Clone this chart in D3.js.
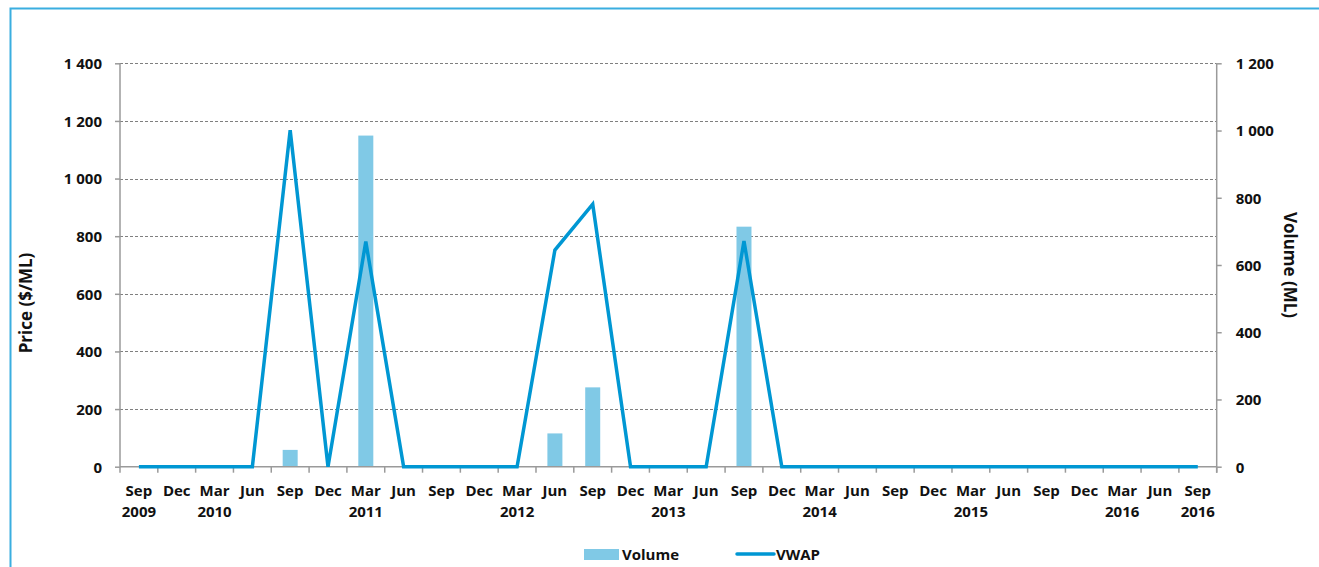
<!DOCTYPE html>
<html>
<head>
<meta charset="utf-8">
<script src="https://cdn.jsdelivr.net/npm/d3@7"></script>
<style>
  html, body { margin: 0; padding: 0; background: #fff; }
  svg { display: block; }
  text { font-family: "Open Sans", Lato, sans-serif; font-weight: bold; fill: #111; }
</style>
</head>
<body>
<svg id="chart" width="1319" height="567"></svg>
<script>
// ---- data ----
const months = ["Sep","Dec","Mar","Jun","Sep","Dec","Mar","Jun","Sep","Dec","Mar","Jun","Sep","Dec","Mar","Jun","Sep","Dec","Mar","Jun","Sep","Dec","Mar","Jun","Sep","Dec","Mar","Jun","Sep"];
const years  = ["2009","","2010","","","","2011","","","","2012","","","","2013","","","","2014","","","","2015","","","","2016","","2016"];
const vwap   = [0,0,0,0,1168,0,781,0,0,0,0,752,911,0,0,0,783,0,0,0,0,0,0,0,0,0,0,0,0];
const volume = [0,0,0,0,50,0,985,0,0,0,0,99,236,0,0,0,714,0,0,0,0,0,0,0,0,0,0,0,0];
const priceTicks  = [0,200,400,600,800,1000,1200,1400];
const volumeTicks = [0,200,400,600,800,1000,1200];

const fmt = d => d3.format(",")(d).replace(/,/g, " ");

const svg = d3.select("#chart");
const L = 120, R = 1216.7, T = 63.3, B = 466.7;
const idx = d3.range(months.length);

const x = d3.scaleBand().domain(idx).range([L, R]).padding(0);
const yP = d3.scaleLinear().domain([0, 1400]).range([B, T]);
const yV = d3.scaleLinear().domain([0, 1200]).range([B, T]);

// frame
svg.append("path")
  .attr("d", `M10.5,567 V8.5 H1319`)
  .attr("fill", "none").attr("stroke", "#3aaee0").attr("stroke-width", 2);

// gridlines
svg.append("g").selectAll("line").data(priceTicks.filter(d => d > 0)).join("line")
  .attr("x1", L).attr("x2", R)
  .attr("y1", d => Math.round(yP(d)) + 0.5).attr("y2", d => Math.round(yP(d)) + 0.5)
  .attr("stroke", "#7f7f7f").attr("stroke-width", 1).attr("stroke-dasharray", "3,2");

// bars
const bw = 15;
svg.append("g").selectAll("rect").data(idx.filter(i => volume[i] > 0)).join("rect")
  .attr("x", i => x(i) + x.bandwidth() / 2 - bw / 2)
  .attr("width", bw)
  .attr("y", i => yV(volume[i]))
  .attr("height", i => B - yV(volume[i]))
  .attr("fill", "#80c9e6");

// left axis
const gL = svg.append("g").attr("transform", `translate(${L},0)`)
  .call(d3.axisLeft(yP).tickValues(priceTicks).tickFormat(fmt).tickSize(5).tickPadding(13));
gL.select(".domain").attr("stroke", "#9a9a9a").attr("stroke-width", 1.5).attr("d", `M0,${T}V${B}`);
gL.selectAll(".tick line").attr("stroke", "#9a9a9a").attr("stroke-width", 1.5);
gL.selectAll("text").style("font-size", "15px").attr("dy", "0.36em");

// right axis
const gR = svg.append("g").attr("transform", `translate(${R},0)`)
  .call(d3.axisRight(yV).tickValues(volumeTicks).tickFormat(fmt).tickSize(5).tickPadding(14));
gR.select(".domain").attr("stroke", "#9a9a9a").attr("stroke-width", 1.5).attr("d", `M0,${T}V${B + 6}`);
gR.selectAll(".tick line").attr("stroke", "#9a9a9a").attr("stroke-width", 1.5);
gR.selectAll("text").style("font-size", "15px").attr("dy", "0.36em");

// x axis
const xb = d3.scaleLinear().domain([0, months.length]).range([L, R]);
const gX = svg.append("g");
gX.append("line").attr("x1", L).attr("x2", R).attr("y1", B).attr("y2", B)
  .attr("stroke", "#9a9a9a").attr("stroke-width", 1.5);
gX.selectAll("line.tk").data(d3.range(months.length + 1)).join("line").attr("class", "tk")
  .attr("x1", d => xb(d)).attr("x2", d => xb(d)).attr("y1", B).attr("y2", B + 6)
  .attr("stroke", "#9a9a9a").attr("stroke-width", 1.5);
gX.selectAll("text.m").data(idx).join("text").attr("class", "m")
  .attr("x", i => x(i) + x.bandwidth() / 2).attr("y", 496)
  .attr("text-anchor", "middle").style("font-size", "15px").text(i => months[i]);
gX.selectAll("text.yr").data(idx.filter(i => years[i])).join("text").attr("class", "yr")
  .attr("x", i => x(i) + x.bandwidth() / 2).attr("y", 517)
  .attr("text-anchor", "middle").style("font-size", "15px").text(i => years[i]);

// line
const line = d3.line().x(i => x(i) + x.bandwidth() / 2).y(i => yP(vwap[i]));
svg.append("path").datum(idx).attr("d", line)
  .attr("fill", "none").attr("stroke", "#0097d3").attr("stroke-width", 3.5)
  .attr("stroke-linejoin", "miter");

// axis titles
svg.append("text").attr("transform", "translate(26,303) rotate(-90)")
  .attr("text-anchor", "middle").attr("dy", "0.35em").style("font-size", "17px").text("Price ($/ML)");
svg.append("text").attr("transform", "translate(1290,265) rotate(90)")
  .attr("text-anchor", "middle").attr("dy", "0.35em").style("font-size", "17px").text("Volume (ML)");

// legend
svg.append("rect").attr("x", 584).attr("y", 549).attr("width", 35).attr("height", 11).attr("fill", "#80c9e6");
svg.append("text").attr("x", 622).attr("y", 559.5).style("font-size", "15px").text("Volume");
svg.append("line").attr("x1", 737).attr("x2", 774).attr("y1", 554).attr("y2", 554)
  .attr("stroke", "#0097d3").attr("stroke-width", 3.5).attr("stroke-linecap", "round");
svg.append("text").attr("x", 776).attr("y", 559.5).style("font-size", "15px").text("VWAP");
</script>
</body>
</html>
